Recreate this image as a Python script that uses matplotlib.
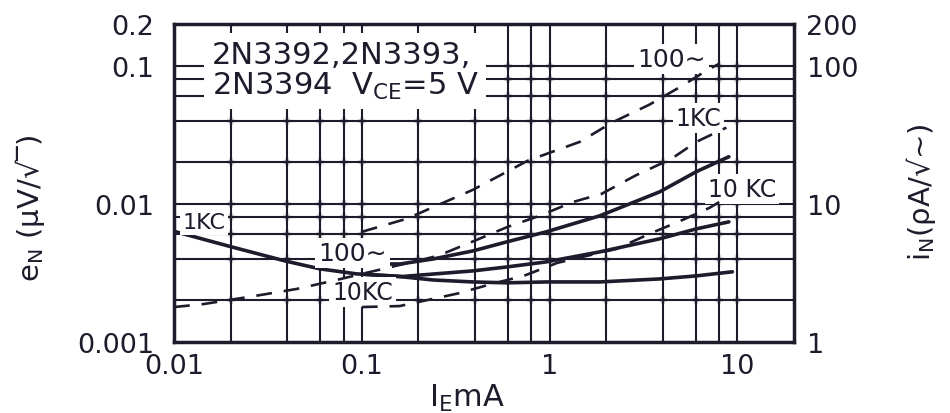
import numpy as np
import matplotlib
matplotlib.use('Agg')
import matplotlib.pyplot as plt
from matplotlib.ticker import FixedLocator, FixedFormatter, NullLocator

# ---------------- data ----------------
# e_N (left axis, uV/sqrt(Hz)) solid curves vs I_E (mA)
en_1kc_ie = [0.0101, 0.02, 0.039, 0.06, 0.094, 0.165, 0.39, 0.59, 0.96, 1.85, 3.85, 6.05, 9.0]
en_1kc = [0.0063, 0.0049, 0.00386, 0.00338, 0.00311, 0.00298, 0.00327, 0.00349, 0.0038, 0.00449, 0.00558, 0.00659, 0.0074]
en_10kc_ie = [0.1, 0.165, 0.24, 0.39, 0.59, 0.96, 1.85, 3.85, 6.05, 9.4]
en_10kc = [0.0031, 0.00296, 0.00281, 0.00272, 0.00268, 0.00272, 0.00272, 0.00286, 0.00301, 0.00322]
en_100_ie = [0.1, 0.16, 0.24, 0.39, 0.59, 0.96, 1.85, 3.85, 6.05, 9.0]
en_100 = [0.00367, 0.00367, 0.00399, 0.00456, 0.0053, 0.00627, 0.00819, 0.0122, 0.0171, 0.0219]

# i_N (right axis, pA/sqrt(Hz)) dashed curves vs I_E (mA)
in_100_ie = [0.1, 0.173, 0.286, 0.389, 0.764, 1.45, 2.14, 3.40, 5.09, 7.1, 8.0]
in_100 = [6.27, 7.79, 10.5, 12.6, 20.5, 28.1, 38.6, 52.2, 71.6, 95.0, 103.0]
in_1kc_ie = [0.01, 0.0143, 0.0273, 0.045, 0.070, 0.254, 0.385, 0.598, 0.885, 1.33, 1.89, 2.86, 4.46, 6.05, 8.73]
in_1kc = [1.79, 1.88, 2.16, 2.42, 2.77, 4.2, 5.3, 6.81, 8.19, 10.3, 11.8, 16.0, 21.2, 28.1, 35.6]
in_10kc_ie = [0.1, 0.159, 0.332, 0.49, 0.728, 1.10, 2.27, 3.40, 4.98, 7.1, 8.0]
in_10kc = [1.79, 1.82, 2.26, 2.63, 3.01, 3.74, 4.72, 6.06, 7.53, 9.35, 10.3]

# axes ticks / grid
x_ticks = [0.01, 0.1, 1, 10]
x_ticklabels = ['0.01', '0.1', '1', '10']
y_ticks = [0.001, 0.01, 0.1, 0.2]
y_ticklabels = ['0.001', '0.01', '0.1', '0.2']
y2_ticks = [1, 10, 100, 200]
y2_ticklabels = ['1', '10', '100', '200']
x_grid = [0.02, 0.04, 0.06, 0.08, 0.1, 0.2, 0.4, 0.6, 0.8, 1, 2, 4, 6, 8, 10]
y_grid = [0.002, 0.004, 0.006, 0.008, 0.01, 0.02, 0.04, 0.06, 0.08, 0.1]

INK = '#1c1c2c'
plt.rcParams['font.family'] = ['DejaVu Sans']

fig = plt.figure(figsize=(9.5, 4.14), dpi=100)
ax = fig.add_axes([174/950, 1-343/414, 620/950, 318/414])
ax.set_xscale('log')
ax.set_yscale('log')
ax.set_xlim(0.01, 20)
ax.set_ylim(0.001, 0.2)

# grid
for gx in x_grid:
    ax.axvline(gx, color=INK, lw=1.5, zorder=1)
for gy in y_grid:
    ax.axhline(gy, color=INK, lw=1.5, zorder=1)
gxx, gyy = np.meshgrid(x_grid, y_grid)
ax.plot(gxx.ravel(), gyy.ravel(), ls='none', marker='+', ms=6, mew=1.7, color=INK, zorder=1.5)

for s in ax.spines.values():
    s.set_linewidth(2.5)
    s.set_color(INK)

ax.xaxis.set_major_locator(FixedLocator(x_ticks))
ax.xaxis.set_major_formatter(FixedFormatter(x_ticklabels))
ax.xaxis.set_minor_locator(NullLocator())
ax.yaxis.set_major_locator(FixedLocator(y_ticks))
ax.yaxis.set_major_formatter(FixedFormatter(y_ticklabels))
ax.yaxis.set_minor_locator(NullLocator())
ax.tick_params(axis='x', length=0, pad=8, labelsize=19.5, labelcolor=INK)
ax.tick_params(axis='y', length=0, pad=14, labelsize=19.5, labelcolor=INK)

# e_N solid curves
ax.plot(en_1kc_ie, en_1kc, color=INK, lw=2.6, zorder=4, solid_capstyle='round')
ax.plot(en_10kc_ie, en_10kc, color=INK, lw=2.6, zorder=4, solid_capstyle='round')
ax.plot(en_100_ie, en_100, color=INK, lw=2.6, zorder=4, solid_capstyle='round')

# labels with white background (break the grid)
bb = dict(boxstyle='square,pad=0.12', fc='white', ec='none')
lab = dict(color=INK, zorder=5, bbox=bb, ha='center', va='center')
ax.text(0.0145, 0.0074, '1KC', fontsize=16, **lab)
ax.text(0.0895, 0.00441, '100\u223c', fontsize=18, **lab)
ax.text(0.101, 0.0023, '10KC', fontsize=17, **lab)
ax.text(4.46, 0.1124, '100\u223c', fontsize=18, **lab)
ax.text(6.2, 0.042, '1KC', fontsize=17, **lab)
ax.text(10.6, 0.01285, '10 KC', fontsize=17, **lab)

# title box
ax.text(0.0159, 0.092, '2N3392,2N3393,\n2N3394  V$\\mathregular{_{CE}}$=5 V', fontsize=22,
        color=INK, ha='left', va='center', zorder=5, linespacing=1.05,
        bbox=dict(boxstyle='square,pad=0.25', fc='white', ec='none'))

# right axis: i_N dashed curves
ax2 = ax.twinx()
ax2.set_yscale('log')
ax2.set_ylim(1, 200)
ax2.yaxis.set_major_locator(FixedLocator(y2_ticks))
ax2.yaxis.set_major_formatter(FixedFormatter(y2_ticklabels))
ax2.yaxis.set_minor_locator(NullLocator())
ax2.tick_params(axis='y', length=0, pad=9, labelsize=19.5, labelcolor=INK)
for s in ax2.spines.values():
    s.set_visible(False)
dash = (0, (6, 4.5))
ax2.plot(in_100_ie, in_100, color=INK, lw=1.9, ls=dash, zorder=4)
ax2.plot(in_1kc_ie, in_1kc, color=INK, lw=1.9, ls=dash, zorder=4)
ax2.plot(in_10kc_ie, in_10kc, color=INK, lw=1.9, ls=dash, zorder=4)

# axis titles
fig.text(30/950, 1-208/414, 'e$\\mathregular{_N}$ (\u03bcV/\u221a\u203e)', rotation=90,
         ha='center', va='center', fontsize=21, color=INK)
fig.text(921/950, 1-192/414, 'i$\\mathregular{_N}$(\u03c1A/\u221a~)', rotation=90,
         ha='center', va='center', fontsize=21, color=INK)
fig.text(467/950, 1-398/414, 'I$\\mathregular{_E}$mA', ha='center', va='center',
         fontsize=22, color=INK)

fig.savefig('out.png', dpi=100)
